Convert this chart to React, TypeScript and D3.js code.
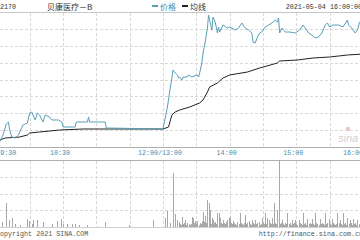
import React from 'react';
import * as d3 from 'd3';

// Header texts
const stockCode = '02170';
const stockName = '贝康医疗－B';
const stamp = '2021-05-04 16:00:00';
const legendPrice = '价格';
const legendAvg = '均线';
const copyright = 'Copyright 2021 SINA.COM';
const siteUrl = 'http://finance.sina.com.cn';

// Time axis, in trading minutes from 09:30 (lunch break removed)
const timeLabels = ['09:30', '10:30', '12:00/13:00', '14:00', '15:00', '16:00'];
const timeLabelMinutes = [0, 60, 150, 210, 270, 330];
const gridMinutes = [30, 60, 90, 120, 150, 180, 210, 240, 270, 300];

// Last price (HKD)
const priceMinutes = [
  0, 3, 6, 9, 11, 12, 14, 17, 20, 21, 24, 28, 30, 32, 33, 35, 37, 39, 42, 44, 48, 50, 56, 59, 60, 71, 72, 82, 83, 84, 98, 99, 150,
  152, 154, 156, 158, 159, 161, 163, 164, 165, 167, 168, 172, 173, 176, 181, 182, 183, 185, 186, 188, 190, 191, 192, 194, 195,
  197, 199, 200, 201, 204, 208, 210, 215, 218, 221, 224, 227, 230, 231, 233, 235, 237, 239, 242, 245, 248, 251, 253, 254, 255,
  257, 260, 264, 269, 273, 276, 278, 281, 284, 287, 290, 293, 296, 298, 300, 303, 308, 312, 316, 317, 320, 323, 325, 327, 330,
];
const priceValues = [
  19.04, 19.05, 19.12, 19.23, 19.25, 19.17, 19.1, 19.09, 19.12, 19.15, 19.22, 19.24, 19.34, 19.35, 19.32, 19.27, 19.34, 19.32,
  19.25, 19.32, 19.3, 19.27, 19.27, 19.25, 19.2, 19.2, 19.25, 19.25, 19.3, 19.25, 19.25, 19.19, 19.18,
  19.29, 19.4, 19.55, 19.69, 19.77, 19.74, 19.72, 19.69, 19.7, 19.67, 19.7, 19.7, 19.72, 19.7, 19.72, 19.7, 19.74, 19.84, 19.94,
  20.05, 20.19, 20.32, 20.27, 20.17, 20.3, 20.25, 20.14, 20.2, 20.15, 20.22, 20.19, 20.2, 20.17, 20.19, 20.24, 20.19, 20.17,
  20.14, 20.05, 20.04, 20.1, 20.14, 20.15, 20.2, 20.22, 20.24, 20.27, 20.25, 20.29, 20.14, 20.19, 20.15, 20.15, 20.14, 20.17,
  20.22, 20.19, 20.14, 20.12, 20.09, 20.1, 20.14, 20.22, 20.24, 20.2, 20.22, 20.22, 20.2, 20.27, 20.22, 20.19, 20.14, 20.17,
  20.25, 20.27,
];

// Average price (HKD)
const avgMinutes = [
  0, 3, 8, 21, 28, 30, 39, 57, 78, 150, 155, 158, 161, 165, 174, 183, 186, 190, 192, 199, 204, 210, 226, 237, 253, 255, 271,
  285, 300, 316, 330,
];
const avgValues = [
  19.04, 19.07, 19.09, 19.1, 19.12, 19.14, 19.15, 19.17, 19.18, 19.18, 19.2, 19.32, 19.35, 19.37, 19.4, 19.44, 19.47, 19.55,
  19.6, 19.64, 19.69, 19.72, 19.75, 19.79, 19.84, 19.86, 19.87, 19.89, 19.9, 19.92, 19.93,
];

// Volume per minute (thousand shares)
const volMinutes = [
  5, 9, 11, 14, 17, 21, 28, 29, 32, 33, 37, 42, 50, 55, 58, 60, 64, 68, 71, 74, 82, 98, 119, 141,
  152, 154, 156, 159, 161, 163, 164, 165, 166, 167, 168, 169, 170, 171, 172, 173, 174, 175, 176, 177, 178, 179, 180, 181, 182,
  183, 184, 185, 186, 187, 188, 189, 190, 191, 192, 193, 194, 195, 196, 197, 198, 199, 200, 201, 202, 203, 204, 205, 206, 207,
  208, 209, 210, 211, 212, 213, 214, 215, 216, 217, 218, 219, 220, 221, 222, 223, 224, 225, 226, 227, 228, 229, 230, 231, 232,
  233, 234, 235, 236, 237, 238, 239, 240, 241, 242, 243, 244, 245, 246, 247, 248, 249, 250, 251, 252, 253, 254, 255, 256, 257,
  258, 259, 260, 261, 262, 263, 264, 265, 266, 267, 268, 269, 270, 271, 272, 273, 274, 275, 276, 277, 278, 279, 280, 281, 282,
  283, 284, 285, 286, 287, 288, 289, 290, 291, 292, 293, 294, 295, 296, 297, 298, 299, 300, 301, 302, 303, 304, 305, 306, 307,
  308, 309, 310, 311, 312, 313, 314, 315, 316, 317, 318, 319, 320, 321, 322, 323, 324, 325, 326, 327, 328, 329,
];
const volValues = [
  50, 240, 70, 90, 30, 20, 80, 60, 30, 70, 70, 50, 30, 60, 80, 30, 30, 30, 30, 20, 20, 50, 20, 70,
  90, 160, 40, 540, 130, 70, 50, 30, 20, 100, 30, 40, 70, 20, 40, 30, 20, 30, 100, 90, 40, 60, 30, 60, 20,
  40, 30, 60, 150, 50, 110, 40, 270, 240, 170, 30, 90, 70, 40, 50, 30, 140, 140, 90, 40, 30, 70, 40, 30, 50,
  70, 90, 100, 40, 30, 60, 40, 30, 20, 50, 30, 140, 40, 30, 20, 40, 120, 30, 40, 60, 30, 20, 70, 40, 30,
  70, 30, 40, 50, 20, 30, 90, 40, 30, 140, 30, 90, 70, 40, 30, 90, 30, 240, 40, 30, 170, 670, 30, 40, 70,
  30, 20, 40, 30, 140, 30, 40, 20, 70, 30, 40, 70, 30, 20, 70, 40, 30, 20, 140, 30, 40, 20, 80, 30, 40,
  30, 80, 30, 20, 140, 40, 30, 20, 80, 30, 40, 30, 20, 140, 30, 40, 80, 30, 20, 80, 40, 30, 20, 30, 140,
  40, 70, 30, 20, 140, 30, 40, 20, 90, 30, 70, 40, 20, 80, 30, 40, 20, 70, 30, 120, 40, 30,
];

const W = 360;
const H = 240;
const PRICE_COLOR = '#5a9fb8';
const AVG_COLOR = '#222';
const LABEL_COLOR = '#3f8cb4';
const GRID_COLOR = '#d8d8d8';
const BAR_COLOR = '#a8a8a8';
const MONO = '"Liberation Mono", "DejaVu Sans Mono", monospace';
const CJK = '"Noto Sans CJK SC", sans-serif';

export default function App() {
  const x = d3.scaleLinear().domain([0, 330]).range([-3.7, 363]);
  const yP = d3.scaleLinear().domain([19.0, 20.35]).range([147, 12]);
  const yV = d3.scaleLinear().domain([0, 670]).range([227, 160]);

  const priceLine = d3
    .line<number>()
    .x((_, i) => x(priceMinutes[i]))
    .y((d) => yP(d));
  const avgLine = d3
    .line<number>()
    .x((_, i) => x(avgMinutes[i]))
    .y((d) => yP(d));

  const [pLo, pHi] = yP.domain();
  const priceGrid = d3.range(1, 8).map((i) => pLo + ((pHi - pLo) * i) / 8);
  const volGrid = d3.range(1, 4).map((i) => (yV.domain()[1] * i) / 4);

  const left = 0;
  const right = W;

  return (
    <svg
      width={W}
      height={H}
      viewBox={`0 0 ${W} ${H}`}
      style={{ position: 'absolute', left: 0, top: 0, background: '#fff' }}
    >
      <rect x={0} y={0} width={W} height={H} fill="#fff" />

      {/* header */}
      <text x={-4} y={9} fontFamily={MONO} fontSize={6.7} fill="#333">
        {stockCode}
      </text>
      <text x={47} y={9.5} fontFamily={CJK} fontSize={8} fill="#333">
        {stockName}
      </text>
      <rect x={152} y={5} width={6} height={2} fill={PRICE_COLOR} />
      <text x={160} y={9.5} fontFamily={CJK} fontSize={8} fill={LABEL_COLOR}>
        {legendPrice}
      </text>
      <rect x={182} y={5} width={6} height={2} fill={AVG_COLOR} />
      <text x={190} y={9.5} fontFamily={CJK} fontSize={8} fill="#333">
        {legendAvg}
      </text>
      <text x={362} y={9} textAnchor="end" fontFamily={MONO} fontSize={6.7} fill="#333">
        {stamp}
      </text>

      {/* price panel grid */}
      <line x1={left} x2={right} y1={12.5} y2={12.5} stroke="#c8c8c8" />
      {priceGrid.map((p, i) => (
        <line
          key={`pg${i}`}
          x1={left}
          x2={right}
          y1={Math.round(yP(p)) + 0.5}
          y2={Math.round(yP(p)) + 0.5}
          stroke={GRID_COLOR}
          strokeDasharray="3,2"
        />
      ))}
      {gridMinutes.map((m) => (
        <line
          key={`pv${m}`}
          x1={Math.round(x(m)) + 0.5}
          x2={Math.round(x(m)) + 0.5}
          y1={13}
          y2={147}
          stroke={GRID_COLOR}
          strokeDasharray="3,2"
        />
      ))}
      <line x1={left} x2={right} y1={147.5} y2={147.5} stroke="#b0b0b0" />

      {/* price and average lines */}
      <path d={avgLine(avgValues) || ''} fill="none" stroke={AVG_COLOR} strokeWidth={1} />
      <path d={priceLine(priceValues) || ''} fill="none" stroke={PRICE_COLOR} strokeWidth={1} />

      {/* watermark */}
      <circle cx={348} cy={129} r={2.2} fill="#f2c4c4" />
      <text x={338} y={142} fontFamily="Arial, sans-serif" fontStyle="italic" fontSize={11} fill="#d0d0d0">
        sina
      </text>

      {/* time labels */}
      {timeLabels.map((t, i) => {
        const px = x(timeLabelMinutes[i]);
        const anchor = i === 0 ? 'start' : i === timeLabels.length - 1 ? 'end' : 'middle';
        const tx = i === 0 || i === timeLabels.length - 1 ? px : px - 3;
        return (
          <text key={t} x={tx} y={155} textAnchor={anchor} fontFamily={MONO} fontSize={6.7} fill={LABEL_COLOR}>
            {t}
          </text>
        );
      })}

      {/* volume panel */}
      <line x1={left} x2={right} y1={160.5} y2={160.5} stroke="#b0b0b0" />
      {volGrid.map((v, i) => (
        <line
          key={`vg${i}`}
          x1={left}
          x2={right}
          y1={Math.round(yV(v)) + 0.5}
          y2={Math.round(yV(v)) + 0.5}
          stroke={GRID_COLOR}
          strokeDasharray="3,2"
        />
      ))}
      {gridMinutes.map((m) => (
        <line
          key={`vv${m}`}
          x1={Math.round(x(m)) + 0.5}
          x2={Math.round(x(m)) + 0.5}
          y1={161}
          y2={227}
          stroke={GRID_COLOR}
          strokeDasharray="3,2"
        />
      ))}
      {volValues.map((v, i) => (
        <rect
          key={`vb${i}`}
          x={Math.round(x(volMinutes[i]))}
          y={yV(v)}
          width={1}
          height={yV(0) - yV(v)}
          fill={BAR_COLOR}
        />
      ))}
      <line x1={left} x2={right} y1={227.5} y2={227.5} stroke="#d0d0d0" />

      {/* footer */}
      <text x={-4} y={236} fontFamily={MONO} fontSize={6.7} fill="#555">
        {copyright}
      </text>
      <text x={363} y={236} textAnchor="end" fontFamily={MONO} fontSize={6.7} fill="#555">
        {siteUrl}
      </text>
    </svg>
  );
}
